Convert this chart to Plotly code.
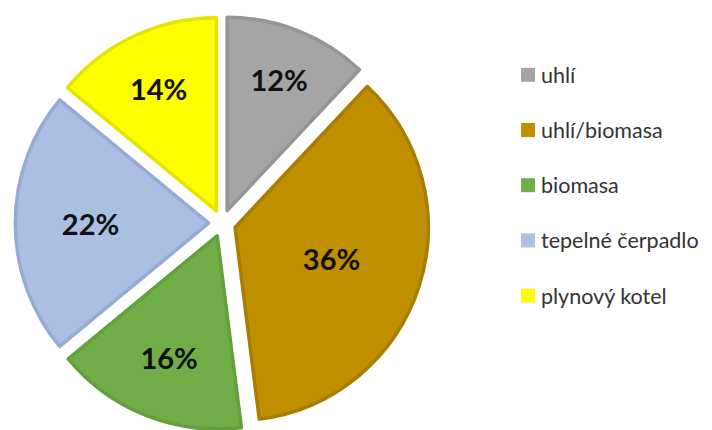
import plotly.graph_objects as go

# Heating sources and their share (%)
categories = ["uhlí", "uhlí/biomasa", "biomasa", "tepelné čerpadlo", "plynový kotel"]
shares = [12, 36, 16, 22, 14]

fill_colors = ["#a5a5a5", "#bf8f00", "#70ad47", "#abbfe2", "#ffff00"]
edge_colors = ["#959595", "#a87e00", "#62a03e", "#97abd2", "#e4e400"]

fig = go.Figure(
    go.Pie(
        labels=categories,
        values=shares,
        sort=False,
        direction="clockwise",
        rotation=0,
        pull=[0.07] * len(shares),
        marker=dict(colors=fill_colors, line=dict(color=edge_colors, width=3.5)),
        textinfo="percent",
        textposition="inside",
        insidetextorientation="horizontal",
        insidetextfont=dict(family="Lato", size=29, color="#111111", weight="bold"),
        domain=dict(x=[0.02, 0.604], y=[0.0, 0.962]),
        showlegend=False,
        hoverinfo="label+percent",
    )
)

# Legend drawn as colored squares with labels to the right
legend_top = 0.826
legend_step = 55.2 / 430
for i, (name, col) in enumerate(zip(categories, fill_colors)):
    yc = legend_top - i * legend_step
    fig.add_shape(
        type="rect", xref="paper", yref="paper",
        x0=0.7318, x1=0.7514, y0=yc - 0.0163, y1=yc + 0.0163,
        fillcolor=col, line=dict(width=0),
    )
    fig.add_annotation(
        x=0.757, y=yc, xref="paper", yref="paper",
        text=name, showarrow=False, xanchor="left", yanchor="middle",
        font=dict(family="Lato", size=21.5, color="#333333"),
    )

fig.update_layout(
    width=712,
    height=430,
    margin=dict(l=0, r=0, t=0, b=0),
    paper_bgcolor="white",
    plot_bgcolor="white",
)

fig.write_html("out.html")
